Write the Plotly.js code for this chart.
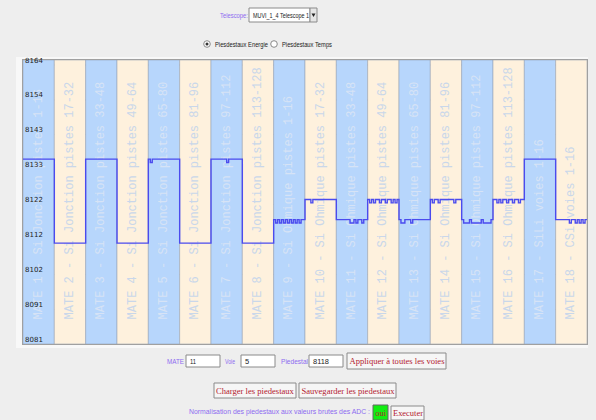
<!DOCTYPE html>
<html>
<head>
<meta charset="utf-8">
<script src="https://cdn.plot.ly/plotly-3.0.1.min.js"></script>
<style>
html,body{margin:0;padding:0;background:#eeeeee;}
#chart{width:596px;height:420px;}
</style>
</head>
<body>
<div id="chart"></div>
<script>
// ---- data ----
const mateLabels = [
  'MATE 1 - Si Jonction pistes 1-16',
  'MATE 2 - Si Jonction pistes 17-32',
  'MATE 3 - Si Jonction pistes 33-48',
  'MATE 4 - Si Jonction pistes 49-64',
  'MATE 5 - Si Jonction pistes 65-80',
  'MATE 6 - Si Jonction pistes 81-96',
  'MATE 7 - Si Jonction pistes 97-112',
  'MATE 8 - Si Jonction pistes 113-128',
  'MATE 9 - Si Ohmique pistes 1-16',
  'MATE 10 - Si Ohmique pistes 17-32',
  'MATE 11 - Si Ohmique pistes 33-48',
  'MATE 12 - Si Ohmique pistes 49-64',
  'MATE 13 - Si Ohmique pistes 65-80',
  'MATE 14 - Si Ohmique pistes 81-96',
  'MATE 15 - Si Ohmique pistes 97-112',
  'MATE 16 - Si Ohmique pistes 113-128',
  'MATE 17 - SiLi voies 1-16',
  'MATE 18 - CSi voies 1-16'
];

const mate01 = [8136,8136,8136,8136,8136,8136,8136,8136,8136,8136,8136,8136,8136,8136,8136,8136];
const mate02 = [8111,8111,8111,8111,8111,8111,8111,8111,8111,8111,8111,8111,8111,8111,8111,8111];
const mate03 = [8136,8136,8136,8136,8136,8136,8136,8136,8136,8136,8136,8136,8136,8136,8136,8136];
const mate04 = [8111,8111,8111,8111,8111,8111,8111,8111,8111,8111,8111,8111,8111,8111,8111,8111];
const mate05 = [8136,8135,8136,8136,8136,8136,8136,8136,8136,8136,8136,8136,8136,8136,8136,8136];
const mate06 = [8111,8111,8111,8111,8111,8111,8111,8111,8111,8111,8111,8111,8111,8111,8111,8111];
const mate07 = [8136,8136,8136,8136,8136,8136,8136,8136,8135,8136,8136,8136,8136,8136,8136,8136];
const mate08 = [8111,8111,8111,8111,8111,8111,8111,8111,8111,8111,8111,8111,8111,8111,8111,8111];
const mate09 = [8118,8117,8118,8117,8118,8117,8118,8117,8118,8117,8118,8117,8118,8117,8118,8118];
const mate10 = [8124,8124,8124,8123,8124,8124,8124,8124,8124,8124,8124,8124,8124,8124,8124,8124];
const mate11 = [8118,8118,8118,8118,8118,8118,8118,8117,8117,8118,8117,8118,8118,8117,8118,8118];
const mate12 = [8124,8123,8124,8123,8124,8124,8123,8124,8124,8123,8124,8124,8123,8124,8123,8124];
const mate13 = [8118,8117,8117,8118,8118,8118,8117,8118,8118,8118,8118,8118,8118,8118,8118,8118];
const mate14 = [8124,8123,8124,8124,8123,8124,8124,8124,8124,8124,8124,8124,8123,8124,8124,8124];
const mate15 = [8118,8117,8117,8117,8118,8117,8117,8117,8117,8117,8118,8117,8117,8117,8117,8118];
const mate16 = [8124,8124,8123,8124,8123,8124,8124,8123,8124,8124,8123,8124,8124,8123,8124,8124];
const mate17 = [8136,8136,8136,8136,8136,8136,8136,8136,8136,8136,8136,8136,8136,8136,8136,8136];
const mate18 = [8118,8118,8118,8118,8118,8118,8118,8117,8118,8118,8117,8118,8117,8118,8117,8118];

const yTickVals = [8081, 8091.375, 8101.75, 8112.125, 8122.5, 8132.875, 8143.25, 8153.625, 8164];
const yTickText = ['8081','8091','8102','8112','8122','8133','8143','8154','8164'];
const yMin = 8081, yMax = 8165.5;

// ---- build ----
const allMates = [mate01,mate02,mate03,mate04,mate05,mate06,mate07,mate08,mate09,
                  mate10,mate11,mate12,mate13,mate14,mate15,mate16,mate17,mate18];
const perMate = 16;
const peds = [].concat(...allMates);
const lx = [], ly = [];
peds.forEach((v,i)=>{ lx.push(i); ly.push(v); });
lx.push(peds.length); ly.push(peds[peds.length-1]);

const barX = allMates.map((m,k)=> k*perMate + perMate/2);
const barColors = allMates.map((m,k)=> k%2===0 ? '#b7d6fc' : '#fef1dd');
const textColors = allMates.map((m,k)=> k%2===0 ? '#d6e3f6' : '#c9d7ea');
const pad = '\u00a0\u00a0\u00a0';

const columns = {
  type:'bar', x:barX, y:allMates.map(()=>yMax-yMin), base:yMin,
  width:perMate,
  marker:{color:barColors, line:{color:'rgba(150,160,178,0.55)', width:1}},
  text: mateLabels.map(s=>pad+s),
  textposition:'inside', insidetextanchor:'start', textangle:-90,
  constraintext:'none', cliponaxis:false,
  textfont:{family:'Liberation Mono, DejaVu Sans Mono, monospace', size:12, color:textColors},
  hoverinfo:'skip', showlegend:false
};
const line = {
  type:'scatter', mode:'lines', x:lx, y:ly,
  line:{shape:'hv', color:'#4b4bee', width:1.4},
  hoverinfo:'skip', showlegend:false
};

// ---- UI decorations (paper coords from pixel positions) ----
const L=23, T=60, W=564, H=284;
const px = x => (x-L)/W;
const py = y => (T+H-y)/H;
const uiFont = 'Liberation Sans, Arial, sans-serif';
const serif = 'Liberation Serif, serif';
const purple = '#8d6cf0', red = '#b3202e';
const shapes = [], ann = [], annW = [];
function rect(x0,y0,x1,y1,fill,lc,layer){
  shapes.push({type:'rect',xref:'paper',yref:'paper',x0:px(x0),x1:px(x1),y0:py(y1),y1:py(y0),
    fillcolor:fill,line:{color:lc||'rgba(0,0,0,0)',width:lc?1:0},layer:layer||'above'});
}
function circ(cx,cy,r,fill,lc){
  shapes.push({type:'circle',xref:'paper',yref:'paper',x0:px(cx-r),x1:px(cx+r),y0:py(cy+r),y1:py(cy-r),
    fillcolor:fill,line:{color:lc||'rgba(0,0,0,0)',width:lc?1:0}});
}
function txt(x,y,s,color,size,family,anchor,w){
  const a = anchor||'left';
  ann.push({xref:'paper',yref:'paper',x:px(x),y:py(y),text:s,showarrow:false,
    xanchor:a,align:a,yanchor:'middle',font:{color:color,size:size,family:family||uiFont}});
  annW.push(w||0);
}
// panel behind plot
rect(16,57,588,348,'#f8f8f8',null,'below');
// top controls
txt(218,15,'Telescope:',purple,7.5,uiFont,'left',28);
rect(249,8,310,22,'#ffffff','#8a8a8a');
txt(251,15,'MUVI_1_4 Telescope 1','#222222',7.5,uiFont,'left',56);
rect(310,8,317,22,'#e6e6e6','#8a8a8a');
shapes.push({type:'path',xref:'paper',yref:'paper',
  path:`M ${px(311.5)} ${py(13.5)} L ${px(315.5)} ${py(13.5)} L ${px(313.5)} ${py(17)} Z`,
  fillcolor:'#222',line:{width:0}});
circ(207,44,3.3,'#ffffff','#8a8a8a');
circ(207,44,1.5,'#333333');
txt(213,44,'Piesdestaux Energie','#222222',7.5,uiFont,'left',53);
circ(274,44,3.3,'#ffffff','#8a8a8a');
txt(280,44,'Piesdestaux Temps','#222222',7.5,uiFont,'left',50);
// bottom row 1
txt(165,361,'MATE',purple,7.5,uiFont,'left',17);
rect(186,355,220,367,'#ffffff','#8a8a8a');
txt(188,361,'11','#222222',7.5,uiFont,'left',6);
txt(223,361,'Voie',purple,7.5,uiFont,'left',10);
rect(241,355,275,367,'#ffffff','#8a8a8a');
txt(243,361,'5','#222222',7.5,uiFont,'left',0);
txt(279,361,'Piedestal',purple,7.5,uiFont,'left',27);
rect(309,355,343,367,'#ffffff','#8a8a8a');
txt(311,361,'8118','#222222',7.5,uiFont,'left',16);
rect(347,353,446,369,'#f6f6f6','#8a8a8a');
txt(396.5,361,'Appliquer à toutes les voies',red,9,serif,'center',95);
// bottom row 2
rect(214,383,296,398,'#f6f6f6','#8a8a8a');
txt(255,390.5,'Charger les piedestaux',red,9,serif,'center',78);
rect(299,383,396,398,'#f6f6f6','#8a8a8a');
txt(347.5,390.5,'Sauvegarder les piedestaux',red,9,serif,'center',93);
// bottom row 3
txt(187,412,'Normalisation des piedestaux aux valeurs brutes des ADC :',purple,6.7,uiFont,'left',181);
rect(373,405,388,420,'#11ee11','#666666');
txt(380.5,412.5,'oui',red,9,serif,'center',11);
rect(391,406,424,420,'#f6f6f6','#8a8a8a');
txt(407.5,413,'Executer',red,9,serif,'center',30);

const layout = {
  width:596, height:420,
  margin:{l:L, r:596-L-W, t:T, b:420-T-H, pad:0},
  paper_bgcolor:'#eeeeee', plot_bgcolor:'#f8f8f8',
  showlegend:false, barmode:'overlay',
  xaxis:{range:[0, peds.length], showgrid:false, zeroline:false, showticklabels:false,
         ticks:'', showline:true, mirror:true, linecolor:'#a0a0a0', linewidth:1, fixedrange:true},
  yaxis:{range:[yMin,yMax], tickmode:'array', tickvals:yTickVals, ticktext:yTickText,
         ticklabelposition:'inside top', ticklabeloverflow:'allow', ticks:'',
         showgrid:true, gridcolor:'#cbcbcb', gridwidth:1.2,
         zeroline:false, showline:true, mirror:true, linecolor:'#a0a0a0', linewidth:1,
         tickfont:{size:7, color:'#222222', family:'DejaVu Sans, sans-serif'},
         layer:'above traces', fixedrange:true},
  shapes:shapes, annotations:ann
};

Plotly.newPlot('chart',[columns,line],layout,{displayModeBar:false, staticPlot:true}).then(gd=>{
  annW.forEach((w,i)=>{
    if(!w) return;
    const t = gd.querySelector('g.annotation[data-index="'+i+'"] text.annotation-text');
    if(t){ t.setAttribute('textLength', w); t.setAttribute('lengthAdjust','spacingAndGlyphs'); }
  });
});
</script>
</body>
</html>
